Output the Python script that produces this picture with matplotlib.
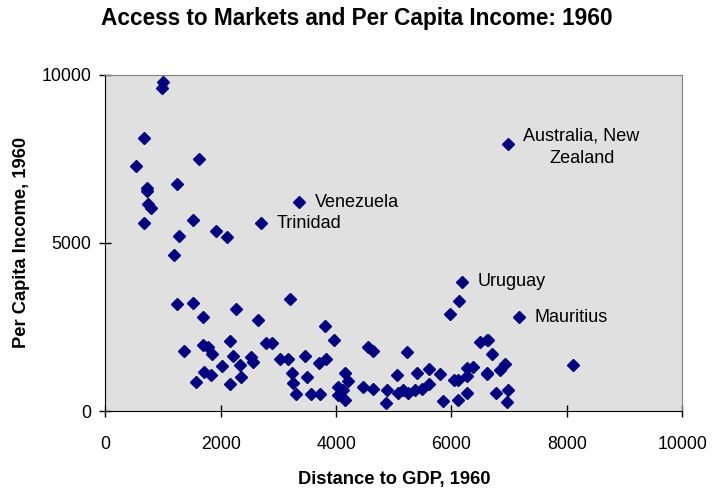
import matplotlib
matplotlib.use('Agg')
import matplotlib.pyplot as plt

plt.rcParams['font.family'] = ['Liberation Sans', 'DejaVu Sans']

# distance to GDP (x) and per capita income (y), 1960
distance = [1002, 983, 671, 1618, 538, 1243, 723, 723, 734, 787, 671, 1525, 1913, 2104,
            1272, 2693, 3362,
            1185, 1237, 1525, 1698, 2260, 2652, 3201, 1364, 1688, 1785, 1844, 2161, 2208,
            2017, 2334, 2525, 2565, 2785, 2884, 1716, 1832, 1567, 2161, 2347, 3028, 3161,
            3230, 3258, 3305,
            6177, 6135, 5974, 3802, 3958, 4548, 4645, 5223, 3461, 3825, 3709, 3490, 3560,
            3721, 4154, 4211, 4038, 4125, 4038, 4154, 4461, 4645, 4877, 4865, 5050, 5078,
            5165, 5251, 5367, 5397, 5484, 5616, 5616, 5801, 6044, 6118, 6263, 6263, 6378,
            5858, 6118, 6263, 6494, 6610, 6610,
            7170, 8100, 6638, 6697, 6927, 6840, 6610, 6771, 6984, 6956, 6980]
income = [9786, 9616, 8120, 7487, 7288, 6744, 6634, 6536, 6140, 6022, 5576, 5674, 5356, 5178,
          5199, 5576, 6200,
          4635, 3188, 3200, 2802, 3030, 2704, 3318, 1791, 1961, 1892, 1693, 2088, 1643,
          1337, 1367, 1595, 1465, 2029, 2029, 1168, 1070, 853, 802, 1001, 1536, 1536,
          1138, 841, 505,
          3841, 3277, 2882, 2534, 2109, 1910, 1791, 1753, 1643, 1536, 1435, 1019, 496,
          496, 1120, 900, 722, 624, 475, 327, 722, 645, 624, 247, 1070, 526,
          624, 526, 624, 1120, 645, 1239, 802, 1099, 921, 921, 1040, 1269, 1316,
          306, 327, 526, 2041, 2109, 1120,
          2784, 1367, 2109, 1693, 1396, 1218, 1099, 544, 624, 276, 7933]

labels = ['Venezuela', 'Trinidad', 'Uruguay', 'Mauritius', 'Australia, New\nZealand']
label_x = [3362, 2693, 6177, 7170, 6980]
label_y = [6200, 5576, 3841, 2784, 7933]

fig = plt.figure(figsize=(7.14, 4.94), dpi=100)
ax = fig.add_axes([0.1475, 0.168, 0.808, 0.681])
ax.set_facecolor('#e0e0e0')

ax.plot(distance, income, linestyle='none', marker='D', markersize=6.0,
        color='#000080', markeredgecolor='#000080')

for lab, lx, ly in zip(labels, label_x, label_y):
    if '\n' in lab:
        # two-line label sits up and to the right of its point
        ax.annotate(lab, (lx, ly), xytext=(53, 12), textcoords='offset points',
                    ha='center', va='top', fontsize=13, multialignment='center',
                    linespacing=1.45)
    else:
        ax.annotate(lab, (lx, ly), xytext=(11.5, 0), textcoords='offset points',
                    ha='left', va='center', fontsize=13)

ax.set_xlim(0, 10000)
ax.set_ylim(0, 10000)
ax.set_xticks([0, 2000, 4000, 6000, 8000, 10000])
ax.set_yticks([0, 5000, 10000])
ax.tick_params(direction='inout', length=8, width=1, labelsize=12.8)
ax.tick_params(axis='x', pad=14)
ax.tick_params(axis='y', pad=6)

for side in ['top', 'right']:
    ax.spines[side].set_color('#808080')
for side in ['left', 'bottom']:
    ax.spines[side].set_color('black')

ax.set_xlabel('Distance to GDP, 1960', fontsize=13.2, fontweight='bold', labelpad=13)
ax.set_ylabel('Per Capita Income, 1960', fontsize=13.2, fontweight='bold', labelpad=8)
fig.suptitle('Access to Markets and Per Capita Income: 1960', fontsize=16.3,
             fontweight='bold', y=0.985)

fig.savefig('out.png', dpi=100)
